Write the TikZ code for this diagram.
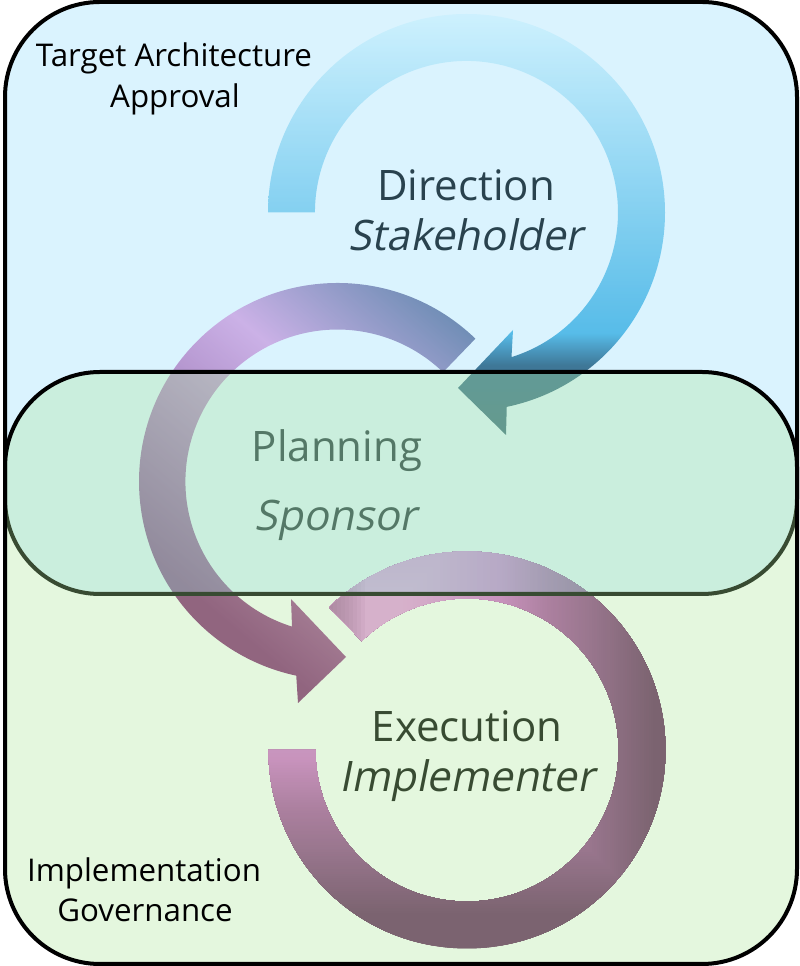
\documentclass[tikz,border=0pt]{standalone}
\usepackage{fontspec}
\setmainfont{Open Sans}
\newfontfamily\slantfont[FakeSlant=0.2]{Open Sans}
\usepackage{tikz}
\usetikzlibrary{positioning}

\definecolor{boxblue}{RGB}{135,216,252}
\definecolor{boxgreen}{RGB}{172,230,154}
\definecolor{ringA}{RGB}{237,153,229}
\definecolor{ringB}{RGB}{214,107,206}
\definecolor{ringC}{RGB}{172,78,162}
\definecolor{ringD}{RGB}{145,64,137}
\definecolor{ringE}{RGB}{100,36,92}

\pgfdeclareverticalshading{directionshade}{100bp}{
    rgb(0bp)=(.14,.28,.33); rgb(25bp)=(.14,.28,.33); rgb(33.3bp)=(.12,.30,.42);
    rgb(37.1bp)=(.26,.69,.88); rgb(75bp)=(.93,.99,1); rgb(100bp)=(.93,.99,1)}
\pgfdeclareverticalshading{planningshade}{100bp}{
    rgb(0bp)=(.52,.15,.45); rgb(31bp)=(.52,.15,.45); rgb(61bp)=(.92,.63,.87);
    rgb(79bp)=(.38,.42,.58); rgb(100bp)=(.38,.42,.58)}

\tikzset{
    label big/.style={font=\fontsize{42}{48}\selectfont, anchor=base},
    label small/.style={font=\fontsize{31.3}{40}\selectfont, anchor=base},
    region/.style={draw=black, line width=4pt, rounded corners=95pt}
}

\begin{document}
\begin{tikzpicture}[x=1pt,y=1pt]
    \useasboundingbox (0,0) rectangle (800,966);

    % Direction ring
    \shade[shading=directionshade] (268,753.5) arc[start angle=180,end angle=-78.3,radius=198.5]
        -- (506,531) -- (458,578) -- (513,636) -- (511.5,608.9)
        arc[start angle=-72.7,end angle=180,radius=151.5] -- cycle;

    % Planning ring
    \shade[shading=planningshade, shading angle=-40] (475.4,627.3) arc[start angle=46,end angle=258,radius=198.5]
        -- (298,263) -- (346,309) -- (291,367) -- (292,339.4)
        arc[start angle=252.6,end angle=46,radius=152] -- cycle;

    % Execution ring, square gradient around one point
    \begin{scope}
        \clip (329.1,358.8) arc[start angle=134,end angle=-180,radius=198.5]
            -- (315.5,216) arc[start angle=-180,end angle=134,radius=151.5] -- cycle;
        \foreach \dhi/\dlo/\chi/\clo in {320/285/ringE/ringE, 285/220/ringE/ringD, 220/180/ringD/ringC, 180/130/ringC/ringB, 130/30/ringB/ringA} {
            \foreach \k in {0,...,29} {
                \pgfmathsetmacro\dd{\dhi-(\dhi-\dlo)*\k/30}
                \pgfmathsetmacro\mx{100*\k/30}
                \fill[\clo!\mx!\chi] (370-\dd,336-\dd) rectangle (370+\dd,336+\dd);
            }
        }
        % darker edge where the ring starts
        \foreach \w in {4,8,...,40} {
            \fill[ringC!80!black, opacity=.09] (325,310) rectangle (325+\w,395);
        }
    \end{scope}

    % Labels below the two regions
    \node[label big] (direction) at (466,765) {Direction};
    \node[label big] (stakeholder) at (466,715.5) {\slantfont Stakeholder};
    \node[label big] (planning) at (337,504.5) {Planning};
    \node[label big] (sponsor) at (335.5,435.5) {\slantfont Sponsor};
    \node[label big] (execution) at (467,224.5) {Execution};
    \node[label big] (implementer) at (467,174.5) {\slantfont Implementer};

    % Regions
    \draw[region, fill=boxblue, fill opacity=.31] (5,372) rectangle (797,964);
    \draw[region, fill=boxgreen, fill opacity=.33] (5,2) rectangle (797,594);

    \node[label small] (target) at (174,899) {Target Architecture};
    \node[label small] (approval) at (175,858.5) {Approval};
    \node[label small] (implementation) at (144,84) {Implementation};
    \node[label small] (governance) at (145,44.5) {Governance};
\end{tikzpicture}
\end{document}
